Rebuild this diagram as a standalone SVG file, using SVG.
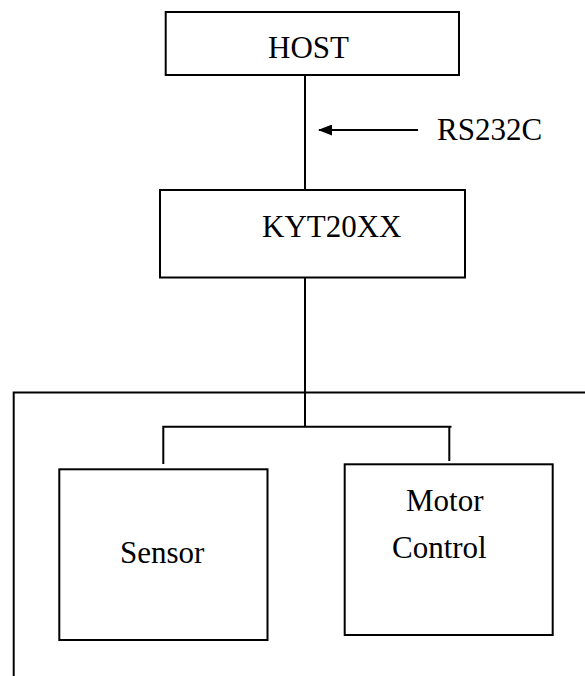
<svg xmlns="http://www.w3.org/2000/svg" width="585" height="676" viewBox="0 0 585 676">
<style>
.box{fill:#fff;stroke:#000;stroke-width:2}
.ln{fill:none;stroke:#000;stroke-width:2}
text{font-family:"Liberation Serif","Times New Roman",serif;font-size:31px;fill:#000}
</style>
<defs>
<marker id="ah" markerWidth="14" markerHeight="11" refX="13" refY="5.5" orient="auto" markerUnits="userSpaceOnUse" viewBox="0 0 14 11">
<path d="M0,0 L14,5.5 L0,11 Z" fill="#000"/>
</marker>
</defs>
<rect width="585" height="676" fill="#fff"/>
<g id="connectors">
<path class="ln" d="M305,75 V190"/>
<path class="ln" d="M305,277.5 V426.7"/>
<path class="ln" d="M163.3,464 V426.7 H451.5"/>
<path class="ln" d="M449.3,426.7 V461"/>
<path class="ln" d="M13.7,676 V392.5 H585"/>
<line class="ln" x1="418" y1="130" x2="319" y2="130" marker-end="url(#ah)"/>
</g>
<g id="rs232c-label"><text x="437" y="140">RS232C</text></g>
<g id="host">
<rect class="box" x="165.7" y="12" width="293.3" height="63"/>
<text x="268" y="58">HOST</text>
</g>
<g id="kyt20xx">
<rect class="box" x="160" y="190" width="305" height="87.5"/>
<text x="262" y="237">KYT20XX</text>
</g>
<g id="sensor">
<rect class="box" x="59.3" y="469.3" width="208.2" height="170.7"/>
<text x="120" y="563">Sensor</text>
</g>
<g id="motor-control">
<rect class="box" x="344.7" y="464.3" width="208" height="170.7"/>
<text x="406" y="511">Motor</text>
<text x="392" y="558">Control</text>
</g>
</svg>
